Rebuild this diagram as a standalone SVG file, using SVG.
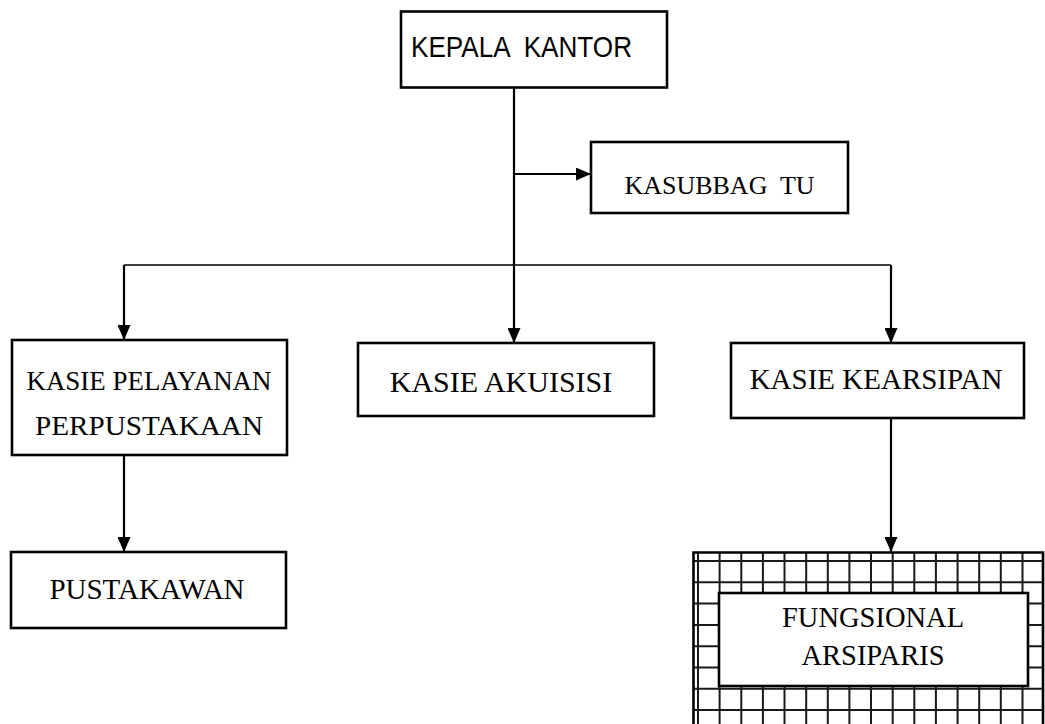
<svg xmlns="http://www.w3.org/2000/svg" width="1045" height="724" viewBox="0 0 1045 724">
<style>
  .box { fill: #ffffff; stroke: #000000; stroke-width: 2.6; }
  .conn { fill: none; stroke: #000000; stroke-width: 2.2; }
  .bus { fill: none; stroke: #000000; stroke-width: 1.6; }
  .grid { fill: none; stroke: #1a1a1a; stroke-width: 2; }
  .serif { font-family: "Liberation Serif", "Times New Roman", serif; fill: #000000; }
  .sans { font-family: "Liberation Sans", Arial, sans-serif; fill: #000000; }
</style>
<defs>
  <marker id="arrow" viewBox="0 0 15 13" refX="15" refY="6.5" markerWidth="15" markerHeight="13" markerUnits="userSpaceOnUse" orient="auto">
    <path d="M0,0 L15,6.5 L0,13 z" fill="#000000"/>
  </marker>
</defs>
<rect width="1045" height="724" fill="#ffffff"/>

<g id="connectors">
  <path class="conn" d="M514,87 V343" marker-end="url(#arrow)"/>
  <path class="conn" d="M514,174 H591" marker-end="url(#arrow)"/>
  <path class="bus" d="M124,265 H891"/>
  <path class="conn" d="M124,265 V340" marker-end="url(#arrow)"/>
  <path class="conn" d="M891,265 V343" marker-end="url(#arrow)"/>
  <path class="conn" d="M124,455 V552" marker-end="url(#arrow)"/>
  <path class="conn" d="M891,418 V552" marker-end="url(#arrow)"/>
</g>

<g id="kepala-kantor">
  <rect class="box" x="401" y="11.5" width="266" height="76"/>
  <text class="sans" x="411" y="57" font-size="30" textLength="221" lengthAdjust="spacingAndGlyphs" xml:space="preserve">KEPALA  KANTOR</text>
</g>

<g id="kasubbag-tu">
  <rect class="box" x="591" y="142" width="257" height="71"/>
  <text class="serif" x="719.5" y="194" font-size="26" text-anchor="middle" xml:space="preserve">KASUBBAG  TU</text>
</g>

<g id="kasie-pelayanan">
  <rect class="box" x="12" y="340" width="275" height="115"/>
  <text class="serif" x="149" y="390" font-size="27" text-anchor="middle" textLength="245" lengthAdjust="spacingAndGlyphs">KASIE PELAYANAN</text>
  <text class="serif" x="149" y="435" font-size="27" text-anchor="middle" textLength="228" lengthAdjust="spacingAndGlyphs">PERPUSTAKAAN</text>
</g>

<g id="kasie-akuisisi">
  <rect class="box" x="358" y="343" width="296" height="73"/>
  <text class="serif" x="501" y="392" font-size="30" text-anchor="middle">KASIE AKUISISI</text>
</g>

<g id="kasie-kearsipan">
  <rect class="box" x="731" y="343" width="293" height="75"/>
  <text class="serif" x="876" y="389" font-size="29" text-anchor="middle">KASIE KEARSIPAN</text>
</g>

<g id="pustakawan">
  <rect class="box" x="11" y="552" width="275" height="76"/>
  <text class="serif" x="147" y="599" font-size="29" text-anchor="middle">PUSTAKAWAN</text>
</g>

<g id="fungsional-arsiparis">
  <rect x="693" y="552" width="350" height="180" fill="#ffffff"/>
  <path class="grid" d="M698,552 V724 M719.6,552 V724 M741.3,552 V724 M762.9,552 V724 M784.5,552 V724 M806.2,552 V724 M827.8,552 V724 M849.4,552 V724 M871,552 V724 M892.7,552 V724 M914.3,552 V724 M935.9,552 V724 M957.6,552 V724 M979.2,552 V724 M1000.8,552 V724 M1022.5,552 V724 M693,561 H1043 M693,582.3 H1043 M693,603.6 H1043 M693,624.9 H1043 M693,646.2 H1043 M693,667.5 H1043 M693,688.8 H1043 M693,710.1 H1043"/>
  <path d="M693.5,730 V552.5 H1043 V730" fill="none" stroke="#000000" stroke-width="2.6"/>
  <rect class="box" x="719" y="593" width="309" height="93"/>
  <text class="serif" x="873" y="627" font-size="28.5" text-anchor="middle">FUNGSIONAL</text>
  <text class="serif" x="873" y="665" font-size="28.5" text-anchor="middle">ARSIPARIS</text>
</g>
</svg>
